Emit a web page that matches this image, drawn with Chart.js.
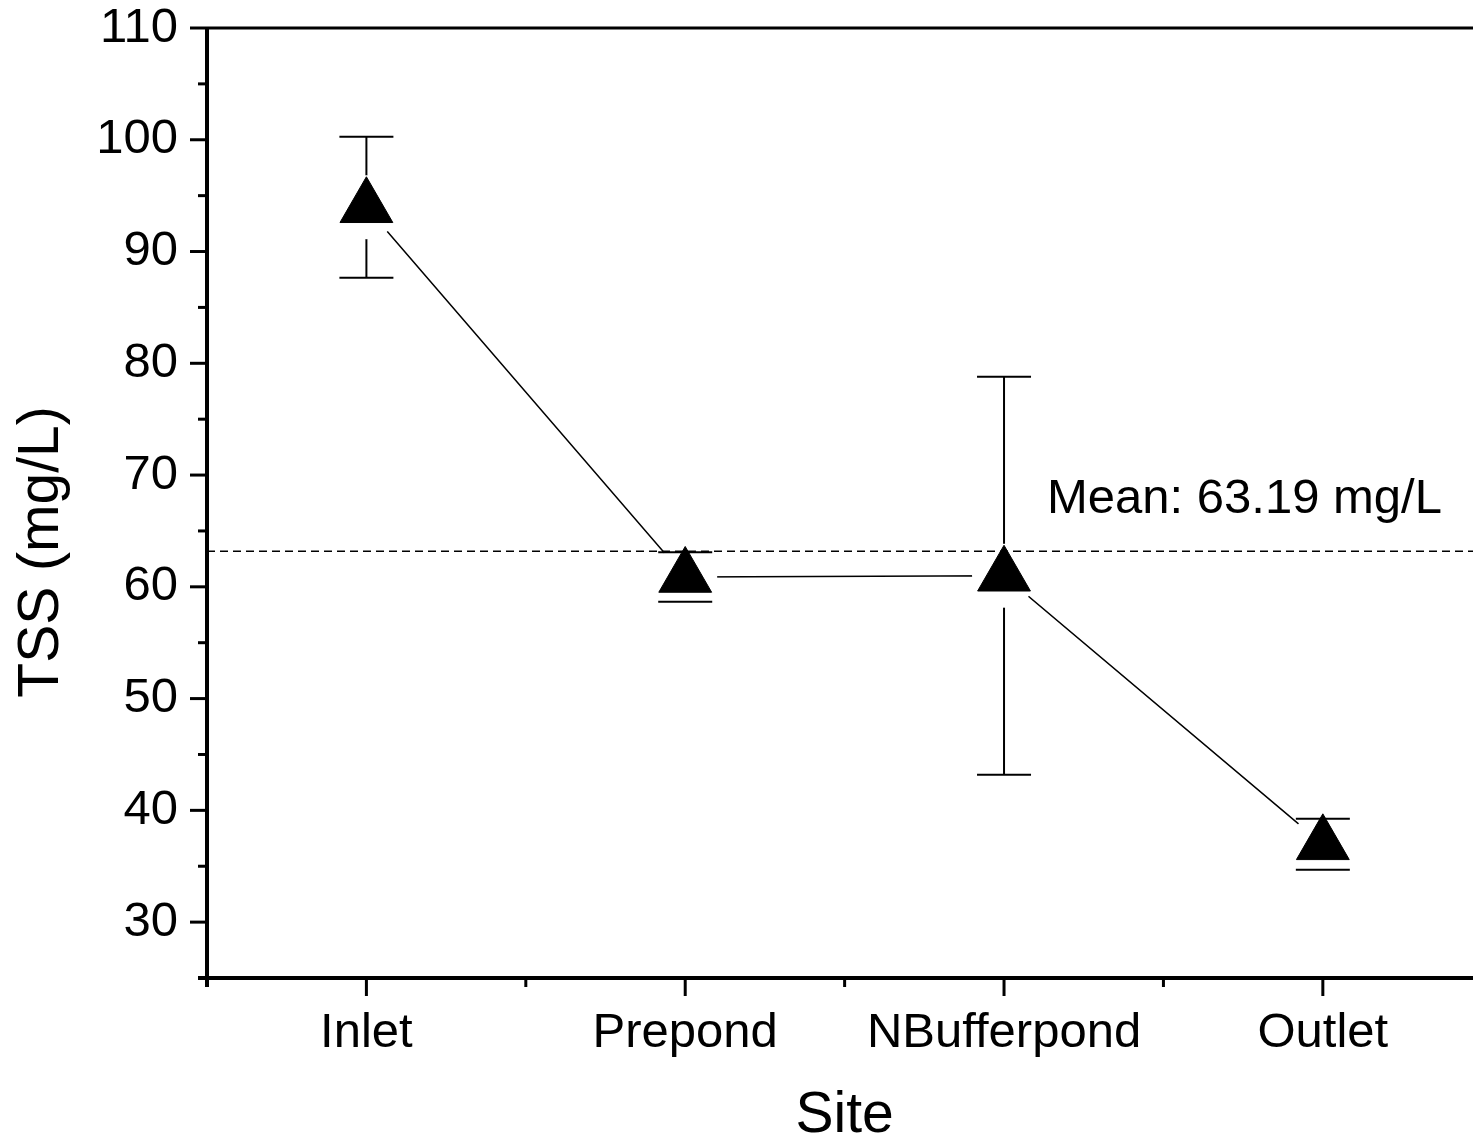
<!DOCTYPE html>
<html>
<head>
<meta charset="utf-8">
<script src="https://cdn.jsdelivr.net/npm/chart.js@4.4.1/dist/chart.umd.min.js"></script>
<style>
    html, body { margin: 0; padding: 0; background: #fff; overflow: hidden; }
    canvas { display: block; }
</style>
</head>
<body>
<canvas id="tssChart" width="1473" height="1144"></canvas>
<script>
const sites = ['Inlet', 'Prepond', 'NBufferpond', 'Outlet'];
const tssMean = [93.96, 60.88, 60.99, 36.96];
const tssError = [6.31, 2.22, 17.8, 2.28];
const overallMean = 63.19;
const meanLabel = 'Mean: 63.19 mg/L';
const yTitle = 'TSS (mg/L)';
const xTitle = 'Site';

const FONT = '"Liberation Sans", Arial, Helvetica, sans-serif';

const points = sites.map((s, i) => ({ x: i + 1, y: tssMean[i] }));

const noPadding = (scale) => {
    scale.paddingTop = 0;
    scale.paddingBottom = 0;
    scale.paddingLeft = 0;
    scale.paddingRight = 0;
};

// vertical error bars go under the markers, the caps go on top
const errorBars = {
    id: 'errorBars',
    beforeDatasetsDraw(chart) {
        const { ctx, scales: { x, y } } = chart;
        ctx.save();
        ctx.strokeStyle = '#000';
        ctx.lineWidth = 2;
        tssMean.forEach((m, i) => {
            const px = x.getPixelForValue(i + 1);
            ctx.beginPath();
            ctx.moveTo(px, y.getPixelForValue(m + tssError[i]));
            ctx.lineTo(px, y.getPixelForValue(m - tssError[i]));
            ctx.stroke();
        });
        ctx.restore();
    },
    afterDatasetsDraw(chart) {
        const { ctx, scales: { x, y } } = chart;
        ctx.save();
        ctx.strokeStyle = '#000';
        ctx.lineWidth = 2;
        tssMean.forEach((m, i) => {
            const px = x.getPixelForValue(i + 1);
            [m + tssError[i], m - tssError[i]].forEach(v => {
                const py = y.getPixelForValue(v);
                ctx.beginPath();
                ctx.moveTo(px - 27, py);
                ctx.lineTo(px + 27, py);
                ctx.stroke();
            });
        });
        ctx.restore();
    }
};

const meanLine = {
    id: 'meanLine',
    afterDatasetsDraw(chart) {
        const { ctx, chartArea, scales: { y } } = chart;
        const py = y.getPixelForValue(overallMean);
        ctx.save();
        ctx.strokeStyle = '#000';
        ctx.lineWidth = 1.5;
        ctx.setLineDash([8, 5]);
        ctx.beginPath();
        ctx.moveTo(chartArea.left, py);
        ctx.lineTo(chartArea.right, py);
        ctx.stroke();
        ctx.setLineDash([]);
        ctx.fillStyle = '#000';
        ctx.font = '49px ' + FONT;
        ctx.textAlign = 'left';
        ctx.textBaseline = 'alphabetic';
        ctx.fillText(meanLabel, 1047, 513);
        ctx.restore();
    }
};

// axis lines, major/minor ticks and axis titles
const frame = {
    id: 'frame',
    afterDraw(chart) {
        const { ctx, chartArea: a, scales: { x, y } } = chart;
        ctx.save();
        ctx.strokeStyle = '#000';
        ctx.lineCap = 'butt';

        ctx.lineWidth = 4;
        ctx.beginPath();
        ctx.moveTo(a.left, a.top);
        ctx.lineTo(a.left, a.bottom + 9);
        ctx.moveTo(a.left - 9, a.bottom);
        ctx.lineTo(a.right, a.bottom);
        ctx.stroke();
        ctx.lineWidth = 3;
        ctx.beginPath();
        ctx.moveTo(a.left, a.top);
        ctx.lineTo(a.right, a.top);
        ctx.stroke();

        ctx.lineWidth = 3;
        for (let v = 25; v <= 110; v += 5) {
            const py = y.getPixelForValue(v);
            const len = v % 10 === 0 ? 17 : 9;
            ctx.beginPath();
            ctx.moveTo(a.left - len, py);
            ctx.lineTo(a.left, py);
            ctx.stroke();
        }
        for (let v = 0.5; v <= 4.5; v += 0.5) {
            const px = x.getPixelForValue(v);
            if (px > a.right) continue;
            const len = Number.isInteger(v) ? 18 : 9;
            ctx.beginPath();
            ctx.moveTo(px, a.bottom);
            ctx.lineTo(px, a.bottom + len);
            ctx.stroke();
        }

        ctx.fillStyle = '#000';
        ctx.font = '57px ' + FONT;
        ctx.textAlign = 'center';
        ctx.textBaseline = 'alphabetic';
        ctx.fillText(xTitle, x.getPixelForValue(2.5), 1132);
        ctx.translate(58, 552);
        ctx.rotate(-Math.PI / 2);
        ctx.fillText(yTitle, 0, 0);
        ctx.restore();
    }
};

const ctx = document.getElementById('tssChart').getContext('2d');
new Chart(ctx, {
    type: 'line',
    data: {
        datasets: [
            {
                // connecting line
                data: points,
                borderColor: '#000',
                borderWidth: 1.5,
                pointRadius: 0,
                fill: false,
                order: 3
            },
            {
                // white gap round each marker
                data: points,
                showLine: false,
                pointStyle: 'circle',
                pointRadius: 32,
                pointBackgroundColor: '#fff',
                pointBorderWidth: 0,
                order: 2
            },
            {
                data: points,
                showLine: false,
                pointStyle: 'triangle',
                pointRadius: 30.5,
                pointBackgroundColor: '#000',
                pointBorderColor: '#000',
                pointBorderWidth: 1,
                order: 1
            }
        ]
    },
    options: {
        responsive: false,
        animation: false,
        layout: { autoPadding: false, padding: { top: 28, left: 0, right: 0, bottom: 0 } },
        plugins: {
            legend: { display: false },
            tooltip: { enabled: false }
        },
        scales: {
            x: {
                type: 'linear',
                min: 0.5,
                max: 4.471,
                afterBuildTicks: (scale) => { scale.ticks = sites.map((s, i) => ({ value: i + 1 })); },
                afterFit: (scale) => { scale.height = 166; noPadding(scale); },
                grid: { display: true, drawOnChartArea: false, drawTicks: false },
                border: { display: false },
                ticks: {
                    padding: 26,
                    color: '#000',
                    font: { family: FONT, size: 49 },
                    maxRotation: 0,
                    autoSkip: false,
                    callback: (value) => sites[value - 1] || ''
                }
            },
            y: {
                min: 25,
                max: 110,
                afterBuildTicks: (scale) => {
                    const t = [];
                    for (let v = 30; v <= 110; v += 10) t.push({ value: v });
                    scale.ticks = t;
                },
                afterFit: (scale) => { scale.width = 207; noPadding(scale); },
                grid: { display: true, drawOnChartArea: false, drawTicks: false },
                border: { display: false },
                ticks: {
                    padding: 29,
                    color: '#000',
                    font: { family: FONT, size: 49 }
                }
            }
        }
    },
    plugins: [errorBars, meanLine, frame]
});
</script>
</body>
</html>
